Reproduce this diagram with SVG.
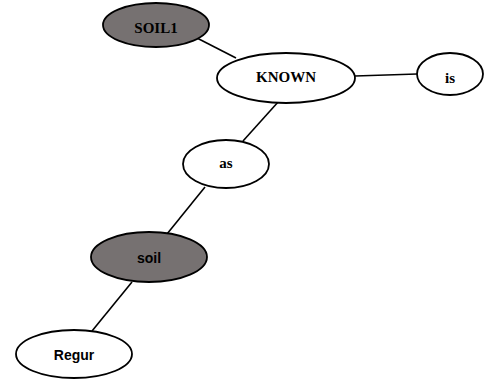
<svg xmlns="http://www.w3.org/2000/svg" width="485" height="380" viewBox="0 0 485 380">
  <style>
    .node { stroke: #000; stroke-width: 1.8; }
    .light { fill: #fff; }
    .dark { fill: #767171; }
    .edge { stroke: #000; stroke-width: 1.6; fill: none; }
    .serif { font-family: "Liberation Serif", "Times New Roman", serif; font-weight: bold; font-size: 15px; text-anchor: middle; fill: #000; }
    .sans { font-family: "Liberation Sans", Arial, sans-serif; font-weight: bold; font-size: 14px; text-anchor: middle; fill: #000; }
  </style>
  <rect width="485" height="380" fill="#fff"/>
  <g id="connectors">
    <line class="edge" x1="195" y1="37" x2="236" y2="58"/>
    <line class="edge" x1="355" y1="76" x2="417" y2="74"/>
    <line class="edge" x1="279" y1="101" x2="243" y2="141"/>
    <line class="edge" x1="205" y1="187" x2="167" y2="234"/>
    <line class="edge" x1="132" y1="282" x2="92" y2="331"/>
  </g>
  <g id="soil1">
    <ellipse class="node dark" cx="156" cy="25" rx="53" ry="22"/>
    <text class="serif" x="156" y="33">SOIL1</text>
  </g>
  <g id="known">
    <ellipse class="node light" cx="286" cy="78" rx="69" ry="25"/>
    <text class="serif" x="286" y="82">KNOWN</text>
  </g>
  <g id="is">
    <ellipse class="node light" cx="450" cy="74" rx="33" ry="21"/>
    <text class="serif" x="450" y="83">is</text>
  </g>
  <g id="as">
    <ellipse class="node light" cx="226" cy="164" rx="43" ry="24"/>
    <text class="serif" x="226" y="168">as</text>
  </g>
  <g id="soil">
    <ellipse class="node dark" cx="149" cy="257" rx="58" ry="25"/>
    <text class="sans" x="149" y="263">soil</text>
  </g>
  <g id="regur">
    <ellipse class="node light" cx="74" cy="354" rx="58" ry="24"/>
    <text class="sans" x="74" y="360">Regur</text>
  </g>
</svg>
